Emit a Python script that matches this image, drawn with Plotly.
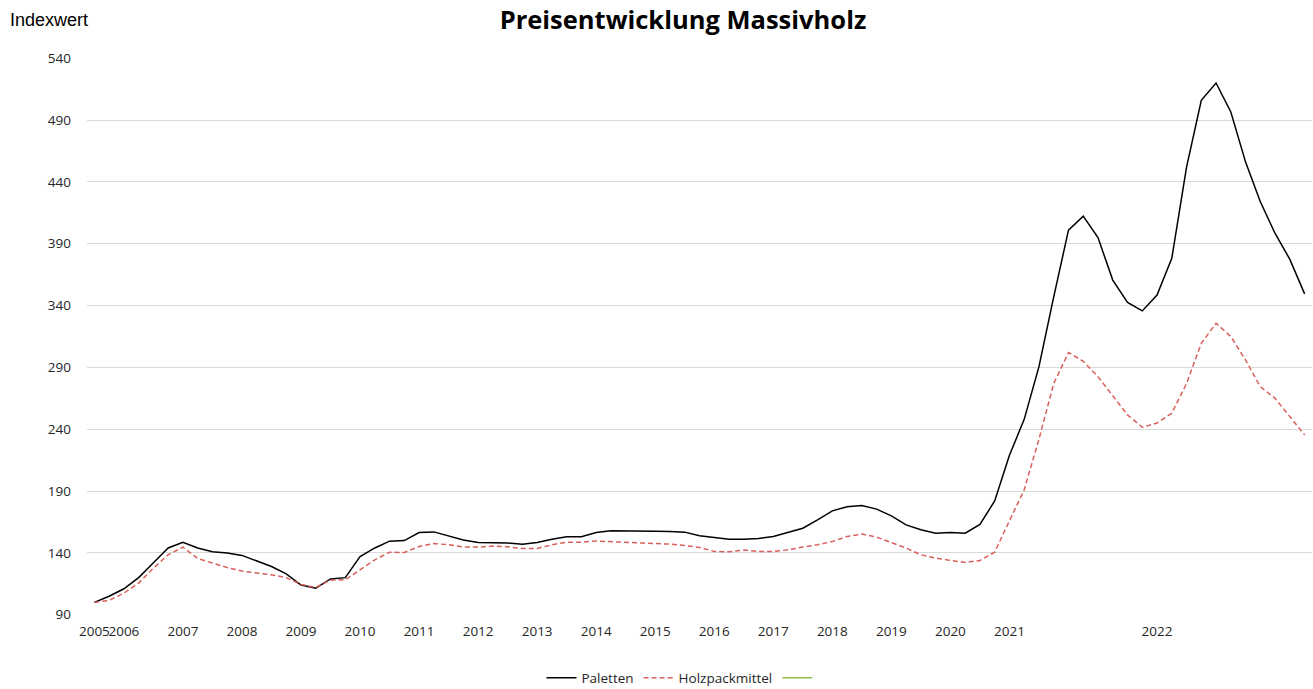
import plotly.graph_objects as go

# ---- data ----
tick_labels = ["2005", "2006", "2007", "2008", "2009", "2010", "2011", "2012", "2013",
               "2014", "2015", "2016", "2017", "2018", "2019", "2020", "2021", "2022"]
tick_index = [0, 2, 6, 10, 14, 18, 22, 26, 30, 34, 38, 42, 46, 50, 54, 58, 62, 72]

paletten = [100, 105, 111, 120, 132, 144, 148.5, 144, 141, 140,
            138, 133.5, 129, 123, 114, 111.5, 119, 120, 137, 144,
            149.5, 150, 156.5, 157, 154, 150.5, 148.5, 148.5, 148, 147,
            148.5, 151, 153, 153, 156.5, 158, 158, 157.5, 157.5, 157.3,
            156.8, 153.8, 152.2, 151.1, 151.1, 151.6, 153.3, 156.5, 160, 166.7,
            174, 177.3, 178.3, 175.4, 170, 162.7, 158.7, 156, 156.5, 156,
            163, 182, 219, 248, 290.6, 347, 401, 412.3, 395, 360.6,
            342.5, 335.7, 348.5, 378.2, 452, 506, 520, 496.6, 456, 424,
            398.3, 377.4, 349.5]

holzpackmittel = [100, 101.6, 107.5, 115.6, 127.7, 138.5, 144.7, 135.5, 131.8, 128.2,
                  125.3, 123.7, 122.3, 120, 114.5, 112.1, 118, 118.3, 126.4, 134.4,
                  140.6, 140.3, 145.2, 147.6, 146.6, 144.9, 144.7, 145.5, 144.9, 143.6,
                  143.6, 146.6, 148.7, 148.7, 149.6, 149.2, 148.4, 147.9, 147.6, 147.1,
                  146, 144.4, 141.2, 140.9, 142.3, 141.2, 141.2, 142.5, 144.7, 146.6,
                  149.2, 153.3, 155.2, 152.8, 148.4, 143.9, 138.5, 135.8, 133.9, 132.3,
                  133.9, 140.6, 166, 191, 232, 277, 302, 295, 282.5, 267,
                  251.6, 241.6, 245, 253, 277, 309.5, 325.7, 315, 296, 274.4,
                  265, 250.2, 235.4]

third_series = []  # empty third series (legend only)

y_ticks = [90, 140, 190, 240, 290, 340, 390, 440, 490, 540]

x_idx = list(range(len(paletten)))

TICK_FONT = dict(family="Open Sans", size=13.5, color="#262626")

fig = go.Figure()
fig.add_trace(go.Scatter(x=x_idx, y=paletten, mode="lines", name="Paletten",
                         line=dict(color="#000000", width=1.5)))
fig.add_trace(go.Scatter(x=x_idx, y=holzpackmittel, mode="lines", name="Holzpackmittel",
                         line=dict(color="#d9605a", width=1.5, dash="5px,3px")))
fig.add_trace(go.Scatter(x=[None] if not third_series else list(range(len(third_series))),
                         y=[None] if not third_series else third_series,
                         mode="lines", name=" ",
                         line=dict(color="#92c050", width=1.5)))

fig.update_layout(
    width=1313, height=689,
    paper_bgcolor="white", plot_bgcolor="white",
    margin=dict(l=87, r=1, t=58, b=74, autoexpand=False),
    title=dict(text="<b>Preisentwicklung Massivholz</b>",
               font=dict(family="Open Sans", size=25.5, color="#000000"),
               xref="container", x=683 / 1313, xanchor="center",
               yref="container", y=1 - 20 / 689, yanchor="middle"),
    showlegend=True,
    legend=dict(orientation="h", xref="container", x=684 / 1313, xanchor="center",
                yref="paper", y=(615 - 678) / 557, yanchor="middle",
                font=dict(family="Open Sans", size=13.5, color="#262626"),
                itemwidth=30, bgcolor="rgba(0,0,0,0)"),
    xaxis=dict(range=[-0.5, len(paletten) - 0.5], tickmode="array",
               tickvals=tick_index, ticktext=tick_labels, tickangle=0,
               automargin=False,
               showgrid=False, zeroline=False, showline=False,
               ticks="", tickfont=TICK_FONT, ticklabelstandoff=6),
    yaxis=dict(range=[89.8, 540.2], tickmode="array", tickvals=y_ticks,
               automargin=False,
               showgrid=True, gridcolor="#d9d9d9", gridwidth=1,
               zeroline=False, showline=False, ticks="",
               tickfont=TICK_FONT, ticklabelstandoff=15),
    annotations=[dict(text="Indexwert", xref="paper", yref="paper",
                      x=0, xshift=-79, xanchor="left",
                      y=(615 - 20) / 557, yanchor="middle", showarrow=False,
                      font=dict(family="Liberation Sans", size=18, color="#000000"))],
)

fig.write_html("out.html", config={"displayModeBar": False},
               post_script="document.body.style.margin='0';document.body.style.overflow='hidden';")
